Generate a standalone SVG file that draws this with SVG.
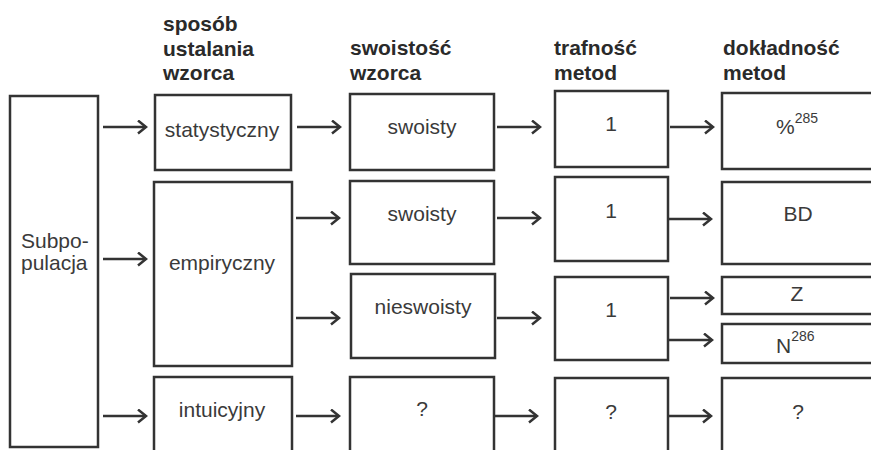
<svg xmlns="http://www.w3.org/2000/svg" width="871" height="450" viewBox="0 0 871 450">
<defs>
<style>
.box{fill:#fff;stroke:#333;stroke-width:2.5}
.hd{font-family:"Liberation Sans",Arial,sans-serif;font-weight:bold;font-size:21px;fill:#2a2a2a}
.lb{font-family:"Liberation Sans",Arial,sans-serif;font-size:21px;fill:#3a3a3a}
.c{text-anchor:middle}
.sup{font-size:14px}
.arr{stroke:#333;stroke-width:2.5;fill:none;marker-end:url(#ah)}
</style>
<marker id="ah" markerUnits="userSpaceOnUse" markerWidth="14" markerHeight="16" refX="10" refY="7" orient="auto">
<path d="M2,0.5 L10,7 L2,13.5" fill="none" stroke="#333" stroke-width="2.5"/>
</marker>
</defs>
<rect width="871" height="450" fill="#fff"/>
<g id="headers">
<text class="hd" x="163" y="31">sposób</text>
<text class="hd" x="163" y="56">ustalania</text>
<text class="hd" x="163" y="80">wzorca</text>
<text class="hd" x="350" y="55">swoistość</text>
<text class="hd" x="350" y="80">wzorca</text>
<text class="hd" x="554" y="55">trafność</text>
<text class="hd" x="554" y="80">metod</text>
<text class="hd" x="723" y="55">dokładność</text>
<text class="hd" x="723" y="80">metod</text>
</g>
<g id="subpopulacja">
<rect class="box" x="10" y="96" width="88" height="351"/>
<text class="lb" x="21" y="248">Subpo-</text>
<text class="lb" x="21" y="270">pulacja</text>
</g>
<g id="statystyczny">
<rect class="box" x="155" y="95" width="136" height="75"/>
<text class="lb c" x="222" y="137">statystyczny</text>
</g>
<g id="empiryczny">
<rect class="box" x="154" y="182" width="138" height="184"/>
<text class="lb c" x="222" y="270">empiryczny</text>
</g>
<g id="intuicyjny">
<rect class="box" x="154" y="377" width="138" height="85"/>
<text class="lb c" x="222" y="417">intuicyjny</text>
</g>
<g id="swoisty1">
<rect class="box" x="350" y="94" width="144" height="76"/>
<text class="lb c" x="422" y="134">swoisty</text>
</g>
<g id="swoisty2">
<rect class="box" x="350" y="181" width="144" height="83"/>
<text class="lb c" x="422" y="221">swoisty</text>
</g>
<g id="nieswoisty">
<rect class="box" x="351" y="274" width="144" height="84"/>
<text class="lb c" x="423" y="314">nieswoisty</text>
</g>
<g id="swoistosc-q">
<rect class="box" x="350" y="377" width="144" height="85"/>
<text class="lb c" x="422" y="416">?</text>
</g>
<g id="trafnosc1">
<rect class="box" x="555" y="91" width="113" height="76"/>
<text class="lb c" x="611" y="131">1</text>
</g>
<g id="trafnosc2">
<rect class="box" x="555" y="177" width="113" height="84"/>
<text class="lb c" x="611" y="218">1</text>
</g>
<g id="trafnosc3">
<rect class="box" x="555" y="277" width="113" height="83"/>
<text class="lb c" x="611" y="317">1</text>
</g>
<g id="trafnosc-q">
<rect class="box" x="555" y="378" width="113" height="84"/>
<text class="lb c" x="611" y="419">?</text>
</g>
<g id="dokl-proc">
<rect class="box" x="722" y="93" width="152" height="76"/>
<text class="lb" x="776" y="134">%<tspan class="sup" dy="-11">285</tspan></text>
</g>
<g id="dokl-bd">
<rect class="box" x="722" y="182" width="152" height="82"/>
<text class="lb c" x="798" y="221">BD</text>
</g>
<g id="dokl-z">
<rect class="box" x="722" y="277" width="152" height="37"/>
<text class="lb c" x="797" y="301">Z</text>
</g>
<g id="dokl-n">
<rect class="box" x="722" y="324" width="152" height="39"/>
<text class="lb" x="776" y="353">N<tspan class="sup" dy="-12">286</tspan></text>
</g>
<g id="dokl-q">
<rect class="box" x="722" y="378" width="152" height="84"/>
<text class="lb c" x="798" y="419">?</text>
</g>
<g id="connectors">
<line class="arr" x1="103" y1="127" x2="146" y2="127"/>
<line class="arr" x1="103" y1="259" x2="146" y2="259"/>
<line class="arr" x1="103" y1="416" x2="146" y2="416"/>
<line class="arr" x1="297" y1="127" x2="340" y2="127"/>
<line class="arr" x1="296" y1="218" x2="339" y2="218"/>
<line class="arr" x1="296" y1="318" x2="339" y2="318"/>
<line class="arr" x1="296" y1="416" x2="339" y2="416"/>
<line class="arr" x1="497" y1="127" x2="540" y2="127"/>
<line class="arr" x1="497" y1="218" x2="540" y2="218"/>
<line class="arr" x1="497" y1="318" x2="540" y2="318"/>
<line class="arr" x1="494" y1="416" x2="537" y2="416"/>
<line class="arr" x1="670" y1="127" x2="713" y2="127"/>
<line class="arr" x1="668" y1="219" x2="711" y2="219"/>
<line class="arr" x1="670" y1="298" x2="713" y2="298"/>
<line class="arr" x1="668" y1="340" x2="712" y2="340"/>
<line class="arr" x1="668" y1="416" x2="711" y2="416"/>
</g>
</svg>
